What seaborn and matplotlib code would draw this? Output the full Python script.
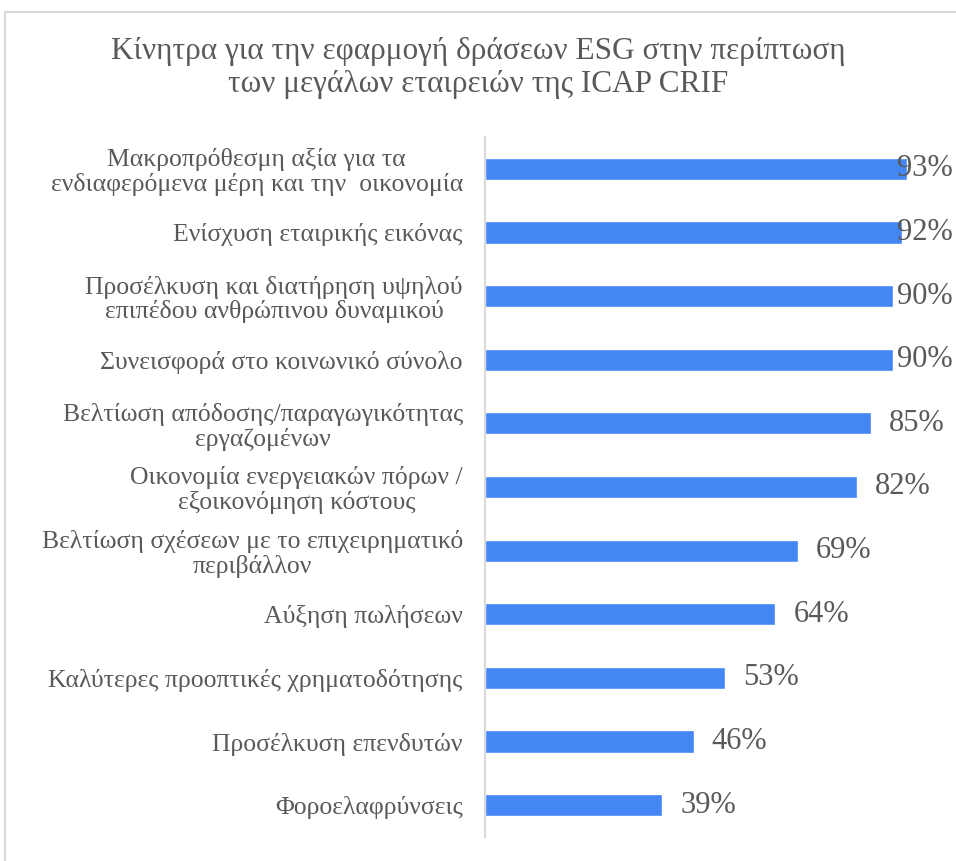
import matplotlib
matplotlib.use("Agg")
import matplotlib.pyplot as plt
import seaborn as sns
import pandas as pd
from matplotlib.patches import Rectangle

labels = [
    "Μακροπρόθεσμη αξία για τα\nενδιαφερόμενα μέρη και την  οικονομία",
    "Ενίσχυση εταιρικής εικόνας",
    "Προσέλκυση και διατήρηση υψηλού\nεπιπέδου ανθρώπινου δυναμικού",
    "Συνεισφορά στο κοινωνικό σύνολο",
    "Βελτίωση απόδοσης/παραγωγικότητας\nεργαζομένων",
    "Οικονομία ενεργειακών πόρων /\nεξοικονόμηση κόστους",
    "Βελτίωση σχέσεων με το επιχειρηματικό\nπεριβάλλον",
    "Αύξηση πωλήσεων",
    "Καλύτερες προοπτικές χρηματοδότησης",
    "Προσέλκυση επενδυτών",
    "Φοροελαφρύνσεις",
]
values = [0.93, 0.92, 0.90, 0.90, 0.85, 0.82, 0.69, 0.64, 0.53, 0.46, 0.39]
title = "Κίνητρα για την εφαρμογή δράσεων ESG στην περίπτωση\nτων μεγάλων εταιρειών της ICAP CRIF"

sns.set_theme(style="white")
plt.rcParams['font.family'] = ['Liberation Serif', 'DejaVu Serif']
grey = "#595959"

df = pd.DataFrame({"label": labels, "value": values})

fig = plt.figure(figsize=(9.56, 8.61), dpi=100)
# chart frame (only left and top edges fall inside the picture)
fig.patches.append(Rectangle((5/956, -0.1), 1.2, 1.1 - 12/861, transform=fig.transFigure,
                             fill=False, edgecolor="#d9d9d9", linewidth=1.5))
ax = fig.add_axes([485/956, 24/861, 453.7/956, 700/861])

sns.barplot(data=df, x="value", y="label", orient="h", color="#4386f4",
            width=0.35, saturation=1, ax=ax)

ax.set_xlim(0, 1)
ax.set_ylim(len(labels) - 0.5, -0.5)
ax.set_xticks([])
ax.set_xlabel("")
ax.set_ylabel("")
for s in ["top", "right", "bottom"]:
    ax.spines[s].set_visible(False)
ax.spines["left"].set_color("#d9d9d9")
ax.spines["left"].set_linewidth(1.5)
ax.tick_params(axis="y", length=0, pad=16, labelsize=18.5, labelcolor=grey)
for t in ax.get_yticklabels():
    t.set_multialignment("center")
    t.set_linespacing(1.1)

# value labels sit past the bar end, pushed back inside the plot area near the edge
for i, v in enumerate(values):
    ax.text(min(v + 0.04, 0.907), i, f"{round(v * 100)}%", va="center", ha="left",
            fontsize=22, color=grey, clip_on=False)

fig.text(0.5, 0.921, title, ha="center", va="center", fontsize=22.5, color=grey,
         linespacing=1.2)

fig.savefig("out.png", dpi=100)
